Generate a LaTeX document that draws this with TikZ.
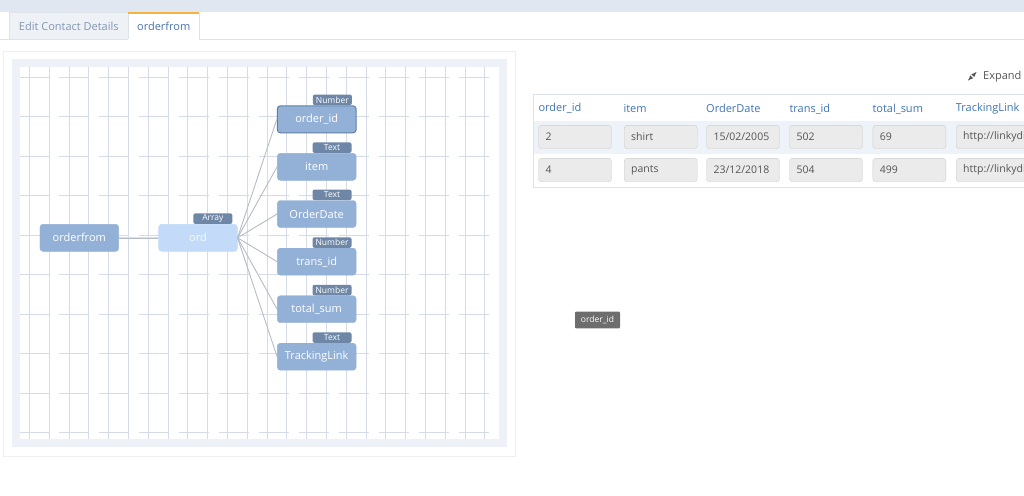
\documentclass[tikz,border=0pt]{standalone}
\usepackage{fontspec}
\setmainfont{Open Sans}
\usepackage{tikz}
\usetikzlibrary{positioning}
\definecolor{topbar}{HTML}{E1E7F1}
\definecolor{tabfill}{HTML}{EEF1F6}
\definecolor{tabline}{HTML}{DDE3EA}
\definecolor{tabtext}{HTML}{8197B3}
\definecolor{activetext}{HTML}{4B73A8}
\definecolor{taborange}{HTML}{F5B342}
\definecolor{panelline}{HTML}{ECEFF3}
\definecolor{framefill}{HTML}{EEF2F8}
\definecolor{gridline}{HTML}{D5DCE7}
\definecolor{fieldfill}{HTML}{93B1D6}
\definecolor{selline}{HTML}{5F7EA7}
\definecolor{arrayfill}{HTML}{C3DBF9}
\definecolor{tagfill}{HTML}{6E87A7}
\definecolor{linkgrey}{HTML}{B4BCC8}
\definecolor{headblue}{HTML}{3F73B1}
\definecolor{rowfill}{HTML}{EEF3FA}
\definecolor{tableline}{HTML}{DCE3EE}
\definecolor{cellfill}{HTML}{EBEBEB}
\definecolor{cellline}{HTML}{CDCDCD}
\definecolor{celltext}{HTML}{555555}
\definecolor{tipgrey}{HTML}{6D6D6D}

\begin{document}
\begin{tikzpicture}[x=1pt, y=-1pt,
    field/.style={draw=fieldfill, fill=fieldfill, rounded corners=3pt, minimum width=78.7pt,
        minimum height=27pt, inner sep=0pt, text=white, font=\fontsize{11}{13}\selectfont},
    typetag/.style={fill=tagfill, rounded corners=2pt, minimum width=39pt, minimum height=10.5pt,
        inner sep=0pt, anchor=south east, text=white, font=\fontsize{8.5}{9}\selectfont},
    link/.style={draw=linkgrey, line width=0.9pt},
    colhead/.style={anchor=west, inner sep=0pt, text=headblue, font=\fontsize{11}{13}\selectfont},
    cell/.style={draw=cellline, fill=cellfill, rounded corners=3pt, anchor=west, minimum height=23.4pt,
        inner xsep=7pt, inner ysep=0pt, text width=59pt, align=left, text=celltext,
        font=\fontsize{10.5}{12}\selectfont}]
    \useasboundingbox (0, 0) rectangle (1024, 495);
    % Top bar and tabs
    \fill [topbar] (0, 0) rectangle (1024, 12);
    \draw [tabline] (0, 39.3) -- (128.3, 39.3);
    \draw [tabline] (199, 39.3) -- (1024, 39.3);
    \draw [tabline, fill=tabfill] (9.3, 39.3) -- (9.3, 12.7) -- (128.3, 12.7) -- (128.3, 39.3);
    \draw [tabline, fill=white] (128.3, 39.3) -- (128.3, 12.7) -- (199, 12.7) -- (199, 39.3);
    \draw [taborange, line width=1.5pt] (128.3, 13) -- (199, 13);
    \node [text=tabtext, font=\fontsize{11}{13}\selectfont] (tabedit) at (68.8, 26.3) {Edit Contact Details};
    \node [text=activetext, font=\fontsize{11}{13}\selectfont] (taborder) at (163.7, 26.3) {orderfrom};
    % Panel, frame and grid
    \draw [panelline, fill=white] (3.3, 51.7) rectangle (515, 456);
    \fill [framefill] (12, 59.3) rectangle (506.7, 446.7);
    \fill [white] (20, 66.7) rectangle (499.3, 439.3);
    \begin{scope}
        \clip (20, 66.7) rectangle (499.3, 439.3);
        \foreach \k in {0, ..., 23}
            \draw [gridline, line width=0.8pt] (29.3 + 19.8*\k, 66.7) -- (29.3 + 19.8*\k, 439.3);
        \foreach \k in {0, ..., 9}
            \draw [gridline, line width=0.8pt, dash pattern=on 30pt off 10pt]
                (19.3, 77.3 + 39.5*\k) -- (499.3, 77.3 + 39.5*\k);
    \end{scope}
    % Nodes
    \node [field] (orderfrom) at (79.3, 237.8) {orderfrom};
    \node [field, draw=arrayfill, fill=arrayfill, text=white!85!arrayfill] (ord) at (198, 237.8) {ord};
    \node [field, draw=selline, line width=1pt] (orderid) at (316.7, 119.3) {order\_id};
    \node [field] (item) at (316.7, 166.8) {item};
    \node [field] (orderdate) at (316.7, 214) {OrderDate};
    \node [field] (transid) at (316.7, 261.7) {trans\_id};
    \node [field] (totalsum) at (316.7, 309.2) {total\_sum};
    \node [field] (trackinglink) at (316.7, 356.7) {TrackingLink};
    % Type tags
    \node [typetag] (ordtype) at ([xshift=-5pt]ord.north east) {Array};
    \node [typetag] (orderidtype) at ([xshift=-4.5pt]orderid.north east) {Number};
    \node [typetag] (itemtype) at ([xshift=-4.5pt]item.north east) {Text};
    \node [typetag] (orderdatetype) at ([xshift=-4.5pt]orderdate.north east) {Text};
    \node [typetag] (transidtype) at ([xshift=-4.5pt]transid.north east) {Number};
    \node [typetag] (totalsumtype) at ([xshift=-4.5pt]totalsum.north east) {Number};
    \node [typetag] (trackinglinktype) at ([xshift=-4.5pt]trackinglink.north east) {Text};
    % Connectors
    \draw [link, line width=0.6pt, double=linkgrey!45, double distance=0.9pt] (orderfrom.east) -- (ord.west);
    \draw [link] (ord.east) -- (orderid.west);
    \draw [link] (ord.east) -- (item.west);
    \draw [link] (ord.east) -- (orderdate.west);
    \draw [link] (ord.east) -- (transid.west);
    \draw [link] (ord.east) -- (totalsum.west);
    \draw [link] (ord.east) -- (trackinglink.west);
    % Expand
    \draw [celltext, line width=0.9pt, -{latex}] (971.3, 77.2) -- (967.8, 80.7);
    \draw [celltext, line width=0.9pt, -{latex}] (973.2, 75.3) -- (976.7, 71.8);
    \node [anchor=west, inner sep=0pt, text=celltext, font=\fontsize{11}{13}\selectfont] (expand) at (983, 76.7) {Expand};
    % Table
    \draw [tableline] (1030, 94.3) -- (533.3, 94.3) -- (533.3, 187.3) -- (1030, 187.3);
    \fill [rowfill] (533.8, 121) rectangle (1030, 154.3);
    \node [colhead] (hid) at (538.3, 108.3) {order\_id};
    \node [colhead] (hitem) at (623.3, 108.8) {item};
    \node [colhead] (hdate) at (706, 108.8) {OrderDate};
    \node [colhead] (htrans) at (789.3, 108.8) {trans\_id};
    \node [colhead] (hsum) at (872.3, 108.8) {total\_sum};
    \node [colhead] (hlink) at (955.7, 108.8) {TrackingLink};
    % row 1
    \node [cell] (aid) at (538.3, 137) {2};
    \node [cell] (aitem) at (624, 137) {shirt};
    \node [cell] (adate) at (706.3, 137) {15/02/2005};
    \node [cell] (atrans) at (789.3, 137) {502};
    \node [cell] (asum) at (872.7, 137) {69};
    \node [cell, text width=80pt] (alink) at (956, 137) {http://linkydi};
    % row 2
    \node [cell] (bid) at (538.3, 170) {4};
    \node [cell] (bitem) at (624, 170) {pants};
    \node [cell] (bdate) at (706.3, 170) {23/12/2018};
    \node [cell] (btrans) at (789.3, 170) {504};
    \node [cell] (bsum) at (872.7, 170) {499};
    \node [cell, text width=80pt] (blink) at (956, 170) {http://linkydi};
    % Tooltip
    \node [fill=tipgrey, rounded corners=1pt, minimum width=45pt, minimum height=16.6pt, inner sep=0pt,
        text=white, font=\fontsize{8.5}{9}\selectfont] (tooltip) at (597.5, 320) {order\_id};
\end{tikzpicture}
\end{document}
